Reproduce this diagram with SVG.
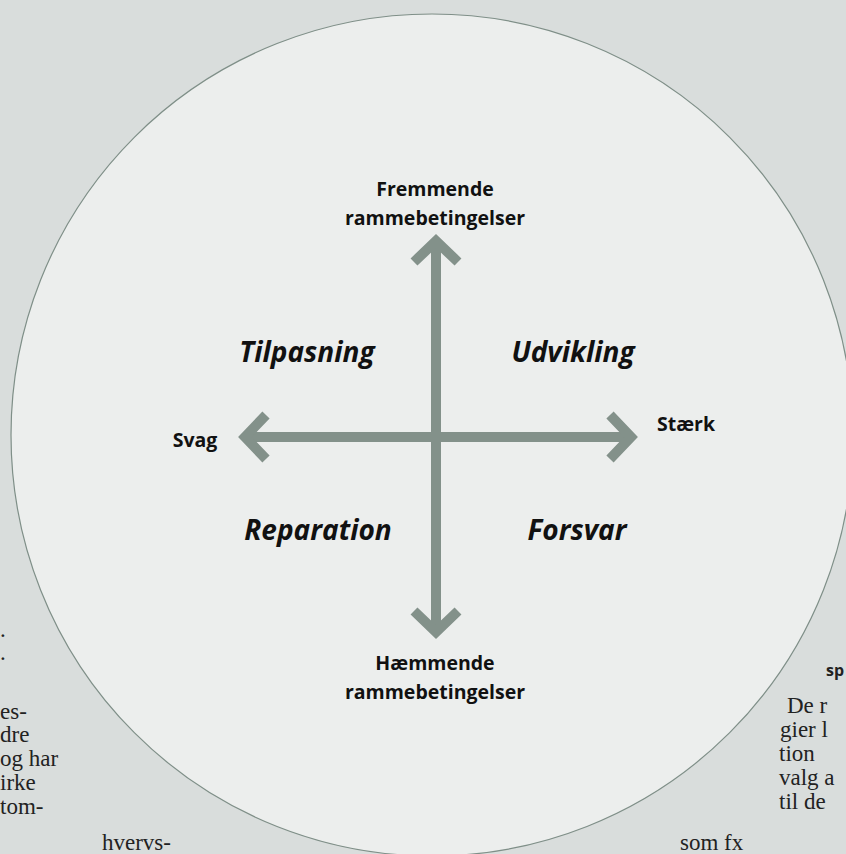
<svg xmlns="http://www.w3.org/2000/svg" width="846" height="854" viewBox="0 0 846 854">
  <style>
    .bg { fill: #d9dddc; }
    .circle { fill: #eceeed; stroke: #7f8f88; stroke-width: 1.2; }
    .axis { stroke: #83918a; stroke-width: 10; fill: none; }
    .head { stroke: #83918a; stroke-width: 10; fill: none; stroke-linejoin: miter; stroke-linecap: butt; }
    .lbl { font-family: "Open Sans", "Noto Sans", sans-serif; font-weight: 700; font-size: 19.5px; fill: #111; text-anchor: middle; }
    .quad { font-family: "Open Sans", "Noto Sans", sans-serif; font-weight: 700; font-style: italic; font-size: 28px; fill: #111; text-anchor: middle; }
    .page { font-family: "Liberation Serif", serif; font-size: 23px; fill: #222; }
    .pageb { font-family: "Open Sans", sans-serif; font-weight: 700; font-size: 16px; fill: #222; }
  </style>
  <rect class="bg" x="0" y="0" width="846" height="854"/>
  <g id="page-text">
    <text class="page" x="0" y="637">.</text>
    <text class="page" x="0" y="660">.</text>
    <text class="page" x="0" y="719">es-</text>
    <text class="page" x="0" y="742">dre</text>
    <text class="page" x="0" y="766">og har</text>
    <text class="page" x="0" y="790">irke</text>
    <text class="page" x="0" y="814">tom-</text>
    <text class="page" x="102" y="850">hvervs-</text>
    <text class="page" x="680" y="850">som fx</text>
    <text class="pageb" x="826" y="676">sp</text>
    <text class="page" x="787" y="713">De r</text>
    <text class="page" x="780" y="737">gier l</text>
    <text class="page" x="779" y="761">tion</text>
    <text class="page" x="779" y="785">valg a</text>
    <text class="page" x="779" y="809">til de</text>
  </g>
  <circle class="circle" cx="432" cy="435" r="421"/>
  <g id="connectors">
    <line class="axis" x1="246" y1="437" x2="630" y2="437"/>
    <line class="axis" x1="436" y1="243" x2="436" y2="630"/>
    <polyline class="head" points="266,415 245,437 266,459"/>
    <polyline class="head" points="610,415 631,437 610,459"/>
    <polyline class="head" points="414,262 436,241 458,262"/>
    <polyline class="head" points="414,611 436,632 458,611"/>
  </g>
  <g id="node-top">
    <text class="lbl" x="435" y="196">Fremmende</text>
    <text class="lbl" x="435" y="225">rammebetingelser</text>
  </g>
  <g id="node-bottom">
    <text class="lbl" x="435" y="670">Hæmmende</text>
    <text class="lbl" x="435" y="699">rammebetingelser</text>
  </g>
  <g id="node-left">
    <text class="lbl" x="195" y="447">Svag</text>
  </g>
  <g id="node-right">
    <text class="lbl" x="657" y="431" style="text-anchor:start">Stærk</text>
  </g>
  <g id="quad-tilpasning">
    <text class="quad" x="307" y="362">Tilpasning</text>
  </g>
  <g id="quad-udvikling">
    <text class="quad" x="573" y="362">Udvikling</text>
  </g>
  <g id="quad-reparation">
    <text class="quad" x="318" y="540">Reparation</text>
  </g>
  <g id="quad-forsvar">
    <text class="quad" x="577" y="540">Forsvar</text>
  </g>
</svg>
